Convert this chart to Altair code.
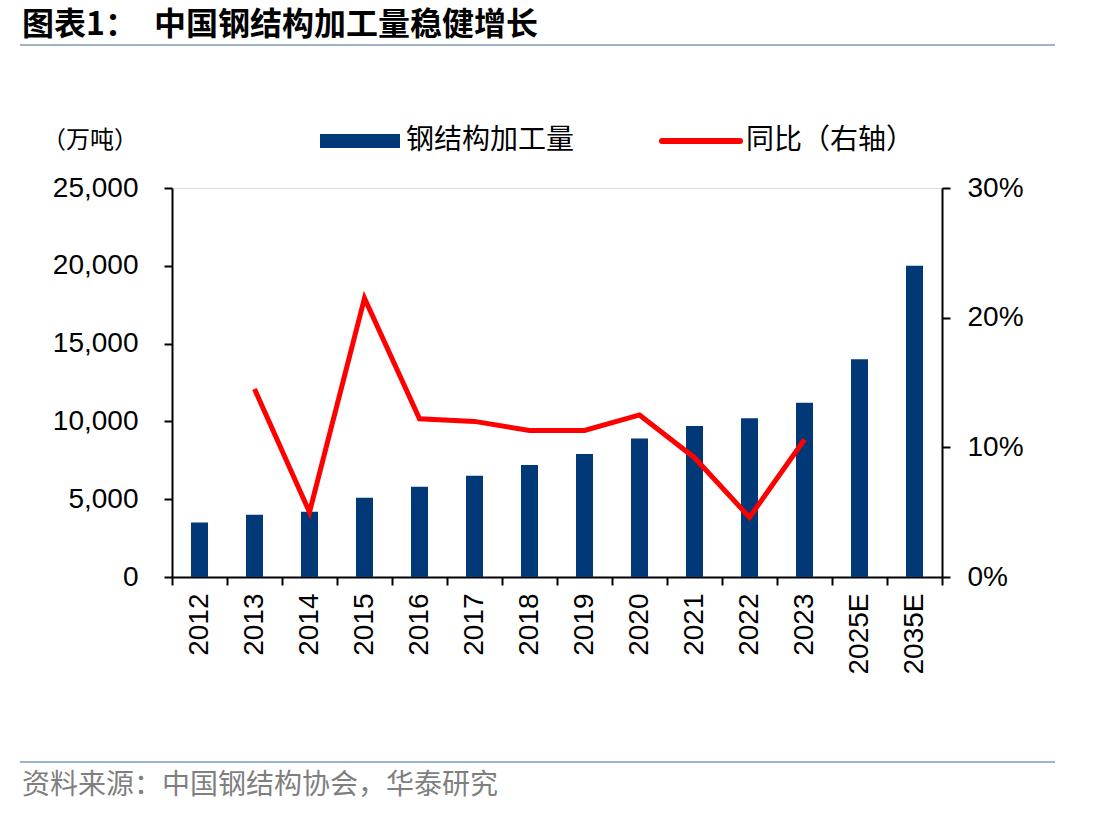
import altair as alt
import pandas as pd

years = ["2012", "2013", "2014", "2015", "2016", "2017", "2018", "2019",
         "2020", "2021", "2022", "2023", "2025E", "2035E"]
output = [3500, 4000, 4200, 5100, 5800, 6500, 7200, 7900,
          8900, 9700, 10200, 11200, 14000, 20000]
yoy_years = ["2013", "2014", "2015", "2016", "2017", "2018", "2019",
             "2020", "2021", "2022", "2023"]
yoy_pct = [14.5, 5.0, 21.5, 12.2, 12.0, 11.3, 11.3, 12.5, 9.2, 4.6, 10.6]

title_a = "图表1："
title_b = "中国钢结构加工量稳健增长"
unit_label = "（万吨）"
legend_bar = "钢结构加工量"
legend_line = "同比（右轴）"
source = "资料来源：中国钢结构协会，华泰研究"

bars_df = pd.DataFrame({"year": years, "output": output})
line_df = pd.DataFrame({"year": yoy_years, "yoy": [v / 100 for v in yoy_pct]})

NUM_FONT = "Liberation Sans"
CJK = "Noto Sans CJK SC"
BAR_COLOR = "#003878"
LINE_COLOR = "#FF0000"

x_enc = alt.X(
    "year:N",
    sort=years,
    title=None,
    scale=alt.Scale(domain=years, paddingInner=0, paddingOuter=0),
    axis=alt.Axis(
        labelAngle=270, labelFont=NUM_FONT, labelFontSize=28, labelColor="black",
        labelPadding=8, tickBand="extent", tickSize=8, tickWidth=2, tickColor="black",
        domainColor="black", domainWidth=2, grid=False, labelBaseline="middle",
        labelAlign="right",
    ),
)

bars = alt.Chart(bars_df).mark_bar(color=BAR_COLOR, width=17).encode(
    x=x_enc,
    y=alt.Y(
        "output:Q",
        title=None,
        scale=alt.Scale(domain=[0, 25000], nice=False),
        axis=alt.Axis(
            values=[0, 5000, 10000, 15000, 20000, 25000], format=",.0f",
            labelFont=NUM_FONT, labelFontSize=28, labelColor="black", labelPadding=26,
            tickSize=8, tickWidth=2, tickColor="black", domainColor="black",
            domainWidth=2, grid=False, orient="left",
        ),
    ),
)

line = alt.Chart(line_df).mark_line(color=LINE_COLOR, strokeWidth=5).encode(
    x=x_enc,
    y=alt.Y(
        "yoy:Q",
        title=None,
        scale=alt.Scale(domain=[0, 0.3], nice=False),
        axis=alt.Axis(
            values=[0, 0.1, 0.2, 0.3], format=".0%",
            labelFont=NUM_FONT, labelFontSize=28, labelColor="black", labelPadding=17,
            tickSize=8, tickWidth=2, tickColor="black", domainColor="black",
            domainWidth=2, grid=False, orient="right",
        ),
    ),
)

one = pd.DataFrame({"k": [0]})
OX, OY = 172, 188  # plot origin within the page


def txt(s, px, py, size, color="black", weight="normal", align="left", font=CJK):
    return alt.Chart(one).mark_text(
        text=s, align=align, baseline="middle", fontSize=size, color=color,
        fontWeight=weight, font=font,
    ).encode(x=alt.value(px - OX), y=alt.value(py - OY))


def hline(x1, x2, py, color, width):
    return alt.Chart(one).mark_rule(color=color, strokeWidth=width).encode(
        x=alt.value(x1 - OX), x2=alt.value(x2 - OX), y=alt.value(py - OY)
    )


title1 = txt(title_a, 22, 25, 32, weight="bold")
title2 = txt(title_b, 154, 25, 32, weight="bold")
top_rule = hline(20, 1055, 45, "#9FB3CB", 2)
bottom_rule = hline(20, 1055, 762, "#9FB3CB", 2)
src = txt(source, 22, 786, 28, color="#7F7F7F")
unit = txt(unit_label, 42, 141, 24)

leg_rect = alt.Chart(one).mark_rect(color=BAR_COLOR).encode(
    x=alt.value(320 - OX), x2=alt.value(400 - OX),
    y=alt.value(134 - OY), y2=alt.value(148 - OY),
)
leg_bar_txt = txt(legend_bar, 406, 141, 28)
leg_line = alt.Chart(one).mark_rule(color=LINE_COLOR, strokeWidth=6, strokeCap="round").encode(
    x=alt.value(662 - OX), x2=alt.value(740 - OX), y=alt.value(141 - OY)
)
leg_line_txt = txt(legend_line, 746, 141, 28)

chart = alt.layer(
    bars, line, title1, title2, top_rule, bottom_rule, src, unit,
    leg_rect, leg_bar_txt, leg_line, leg_line_txt,
).resolve_scale(y="independent").properties(
    width=770, height=389,
    autosize=alt.AutoSizeParams(type="none"),
    padding={"left": 172, "top": 188, "right": 170, "bottom": 239},
).configure_view(stroke=None).configure(background="white")

chart.save("out.html", embed_options={"renderer": "svg", "actions": False})
